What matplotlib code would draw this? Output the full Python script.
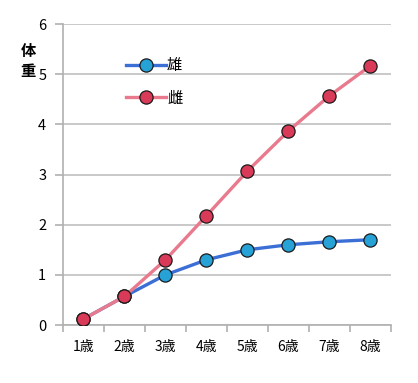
import matplotlib
matplotlib.use("Agg")
import matplotlib.pyplot as plt
import numpy as np

plt.rcParams['font.family'] = ['Noto Sans CJK JP', 'DejaVu Sans']

ages = ["1歳", "2歳", "3歳", "4歳", "5歳", "6歳", "7歳", "8歳"]
male = [0.12, 0.57, 1.0, 1.3, 1.5, 1.6, 1.66, 1.7]
female = [0.12, 0.57, 1.3, 2.18, 3.07, 3.87, 4.57, 5.17]

fig = plt.figure(figsize=(4.18, 3.83), dpi=100)
ax = fig.add_axes([0.1507, 0.1514, 0.7847, 0.7859])

x = np.arange(len(ages))
ax.plot(x, male, color="#3c6fd6", lw=2.4, marker="o", ms=9.5,
        mfc="#27a2d6", mec="#1a1a1a", mew=0.9, label="雄", zorder=3)
ax.plot(x, female, color="#e97a8e", lw=2.4, marker="o", ms=9.5,
        mfc="#d93a58", mec="#1a1a1a", mew=0.9, label="雌", zorder=4)

ax.set_xlim(-0.5, len(ages) - 0.5)
ax.set_ylim(0, 6)
ax.set_yticks(range(7))
ax.set_xticks(x)
ax.set_xticklabels(ages)
ax.set_xticks(np.arange(-0.5, len(ages)), minor=True)
ax.tick_params(axis="x", which="major", length=0, pad=11, labelsize=10)
ax.tick_params(axis="x", which="minor", length=5, color="#b0b0b0", width=1.2)
ax.tick_params(axis="y", length=6, color="#b0b0b0", width=1.2, pad=6, labelsize=10.5)

ax.grid(axis="y", color="#c0c0c0", lw=1.2)
ax.set_axisbelow(True)
for s in ["top", "right"]:
    ax.spines[s].set_visible(False)
for s in ["left", "bottom"]:
    ax.spines[s].set_color("#b0b0b0")
    ax.spines[s].set_linewidth(1.2)

fig.text(0.067, 0.84, "体\n重", fontsize=11, fontweight="bold",
         ha="center", va="center", linespacing=1.3)

leg = ax.legend(loc="upper left", bbox_to_anchor=(0.15, 0.935), frameon=False,
                handlelength=2.6, labelspacing=1.0, handletextpad=0.1, fontsize=11)

fig.savefig("out.png", dpi=100)
